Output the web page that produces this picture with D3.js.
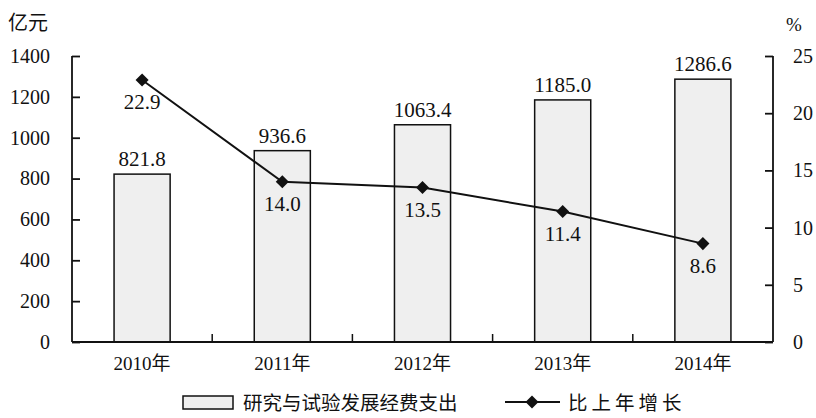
<!DOCTYPE html>
<html><head><meta charset="utf-8">
<script src="https://cdn.jsdelivr.net/npm/d3@7"></script>
<style>
html,body{margin:0;padding:0;background:#fff;}
svg text{font-family:"Liberation Serif","Times New Roman","Noto Sans CJK SC",serif;fill:#111;}
</style></head>
<body>
<svg id="c" width="816" height="418"></svg>
<script>
const categories = ["2010年","2011年","2012年","2013年","2014年"];
const spending = [821.8, 936.6, 1063.4, 1185.0, 1286.6];
const growth = [22.9, 14.0, 13.5, 11.4, 8.6];
const leftTicks = [0,200,400,600,800,1000,1200,1400];
const rightTicks = [0,5,10,15,20,25];
const legendLabels = ["研究与试验发展经费支出","比上年增长"];
const unitLeft = "亿元", unitRight = "%";

const svg = d3.select("#c");
const L = 72, R = 773, T = 56, B = 342;
const x = d3.scaleBand().domain(categories).range([L, R]).paddingInner(0.6).paddingOuter(0.3);
const xc = d3.scalePoint().domain(categories).range([L, R]).padding(0.5);
const yL = d3.scaleLinear().domain([0,1400]).range([B, T]);
const yR = d3.scaleLinear().domain([0,25]).range([B, T]);

// bars
svg.append("g").selectAll("rect").data(spending).join("rect")
  .attr("x",(d,i)=>xc(categories[i]) - x.bandwidth()/2)
  .attr("y",d=>yL(d)).attr("width",x.bandwidth()).attr("height",d=>B-yL(d))
  .attr("fill","#efefef").attr("stroke","#111").attr("stroke-width",1.5);

// bar labels
svg.append("g").selectAll("text").data(spending).join("text")
  .attr("x",(d,i)=>xc(categories[i])).attr("y",d=>yL(d)-8)
  .attr("text-anchor","middle").attr("font-size",21).text(d=>d.toFixed(1));

// axes
const axL = d3.axisLeft(yL).tickValues(leftTicks).tickFormat(d3.format("d")).tickSize(-8).tickPadding(22);
const gL = svg.append("g").attr("transform",`translate(${L},0)`).call(axL);
const axR = d3.axisRight(yR).tickValues(rightTicks).tickFormat(d3.format("d")).tickSize(-8).tickPadding(20);
const gR = svg.append("g").attr("transform",`translate(${R},0)`).call(axR);
[gL,gR].forEach(g=>{
  g.attr("font-family",null).attr("font-size",null);
  g.select(".domain").attr("stroke","#111").attr("stroke-width",1.8).attr("d",`M0,${T}V${B}`);
  g.selectAll(".tick line").attr("stroke","#111").attr("stroke-width",1.8);
  g.selectAll(".tick text").attr("font-size",20).attr("fill","#111");
});

// x axis
const gX = svg.append("g").attr("transform",`translate(0,${B})`);
gX.append("line").attr("x1",L).attr("x2",R).attr("stroke","#111").attr("stroke-width",1.8);
const bounds = categories.slice(1).map((c,i)=>(xc(categories[i])+xc(c))/2);
gX.selectAll("line.t").data(bounds).join("line").attr("class","t")
  .attr("x1",d=>d).attr("x2",d=>d).attr("y1",0).attr("y2",-8).attr("stroke","#111").attr("stroke-width",1.5);
gX.selectAll("text").data(categories).join("text")
  .attr("x",d=>xc(d)).attr("y",28).attr("text-anchor","middle").attr("font-size",19).text(d=>d);

// line
const line = d3.line().x((d,i)=>xc(categories[i])).y(d=>yR(d));
svg.append("path").datum(growth).attr("d",line).attr("fill","none").attr("stroke","#111").attr("stroke-width",2);
const sym = d3.symbol(d3.symbolSquare, 85);
svg.append("g").selectAll("path").data(growth).join("path")
  .attr("d",sym).attr("fill","#111")
  .attr("transform",(d,i)=>`translate(${xc(categories[i])},${yR(d)}) rotate(45)`);
svg.append("g").selectAll("text").data(growth).join("text")
  .attr("x",(d,i)=>xc(categories[i])).attr("y",d=>yR(d)+29)
  .attr("text-anchor","middle").attr("font-size",21).text(d=>d.toFixed(1));

// units
svg.append("text").attr("x",8).attr("y",30).attr("font-size",20).text(unitLeft);
svg.append("text").attr("x",786).attr("y",31).attr("font-size",19).text(unitRight);

// legend
const lg = svg.append("g");
lg.append("rect").attr("x",183).attr("y",396).attr("width",50).attr("height",13)
  .attr("fill","#efefef").attr("stroke","#111").attr("stroke-width",1.5);
lg.append("text").attr("x",243).attr("y",410).attr("font-size",19.5).text(legendLabels[0]);
lg.append("line").attr("x1",505).attr("x2",560).attr("y1",402).attr("y2",402).attr("stroke","#111").attr("stroke-width",2);
lg.append("path").attr("d",sym).attr("fill","#111").attr("transform","translate(532,402) rotate(45)");
lg.append("text").attr("x",568).attr("y",410).attr("font-size",19.5).attr("letter-spacing",4).text(legendLabels[1]);
</script>
</body></html>
